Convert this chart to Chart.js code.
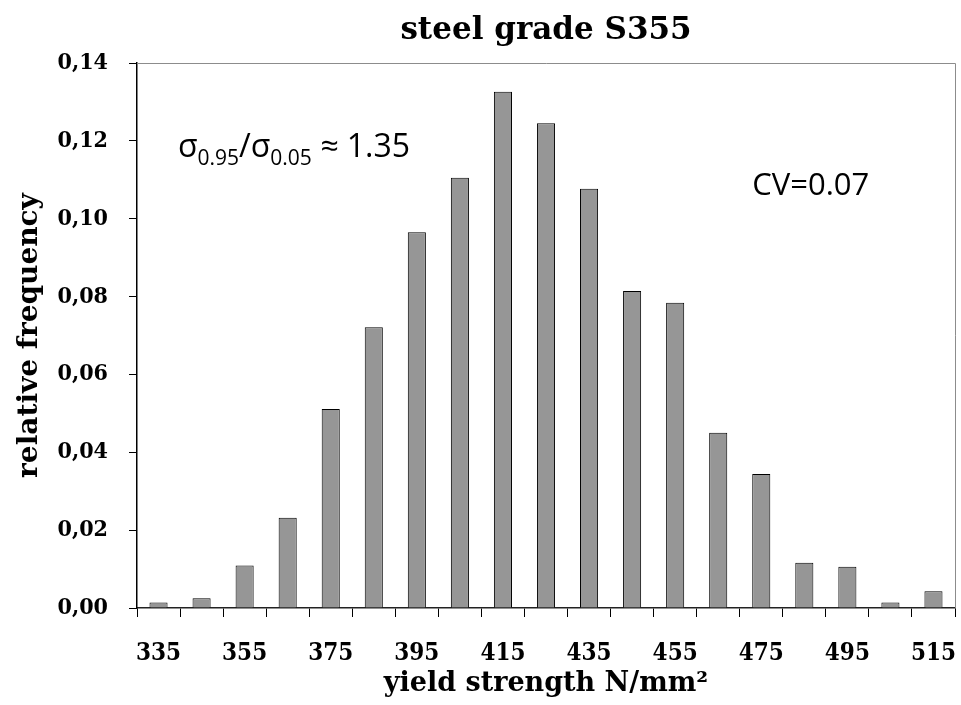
<!DOCTYPE html>
<html>
<head>
<meta charset="utf-8">
<script src="https://cdn.jsdelivr.net/npm/chart.js@4/dist/chart.umd.min.js"></script>
<style>
  html, body { margin: 0; padding: 0; background: #fff; }
  canvas { display: block; }
</style>
</head>
<body>
<canvas id="c" width="961" height="705"></canvas>
<script>
// ---- data ----
const categories = ['335','345','355','365','375','385','395','405','415','425','435','445','455','465','475','485','495','505','515'];
const relativeFrequency = [0.0014, 0.0025, 0.0109, 0.0232, 0.0511, 0.0721, 0.0965, 0.1105, 0.1326, 0.1245, 0.1077, 0.0814, 0.0784, 0.0450, 0.0344, 0.0116, 0.0106, 0.0014, 0.0043];
const yTicks = [0, 0.02, 0.04, 0.06, 0.08, 0.10, 0.12, 0.14];
const titleText = 'steel grade S355';
const xTitle = 'yield strength N/mm\u00B2';
const yTitle = 'relative frequency';
const ratioNote = { x: 0.45, y: 0.1158 };   // anchor in (category index, value)
const cvNote = { text: 'CV=0.07', x: 13.79, y: 0.106 };

const SERIF = "'DejaVu Serif', serif";
const TICKFONT = "'DejaVu Serif Condensed', 'DejaVu Serif', serif";
const SANS = "'Open Sans', 'Noto Sans', sans-serif";

const framePlugin = {
  id: 'frame',
  afterDraw(chart) {
    const { ctx, chartArea: a } = chart;
    ctx.save();
    ctx.strokeStyle = '#8c8c8c';
    ctx.lineWidth = 1;
    ctx.beginPath();
    ctx.moveTo(a.left, a.top + 0.5);
    ctx.lineTo(a.right + 0.5, a.top + 0.5);
    ctx.lineTo(a.right + 0.5, a.bottom);
    ctx.stroke();
    ctx.restore();
  }
};

const notesPlugin = {
  id: 'notes',
  afterDatasetsDraw(chart) {
    const { ctx, scales: { x, y } } = chart;
    ctx.save();
    ctx.fillStyle = '#000';
    ctx.textBaseline = 'alphabetic';
    ctx.textAlign = 'left';
    let px = x.getPixelForValue(ratioNote.x);
    const py = y.getPixelForValue(ratioNote.y);
    const big = '32px ' + SANS, small = '21px ' + SANS;
    const parts = [
      { t: '\u03C3', f: big, dy: 0 },
      { t: '0.95', f: small, dy: 8 },
      { t: '/', f: big, dy: 0 },
      { t: '\u03C3', f: big, dy: 0 },
      { t: '0.05', f: small, dy: 8 },
      { t: ' \u2248 1.35', f: big, dy: 0 }
    ];
    for (const p of parts) {
      ctx.font = p.f;
      ctx.fillText(p.t, px, py + p.dy);
      px += ctx.measureText(p.t).width;
    }
    ctx.font = '31px ' + SANS;
    ctx.fillText(cvNote.text, x.getPixelForValue(cvNote.x), y.getPixelForValue(cvNote.y));
    ctx.restore();
  }
};

new Chart(document.getElementById('c'), {
  type: 'bar',
  data: {
    labels: categories,
    datasets: [{
      data: relativeFrequency,
      backgroundColor: '#969696',
      borderColor: '#000',
      borderWidth: 1,
      borderSkipped: 'bottom',
      barPercentage: 0.42,
      categoryPercentage: 1.0
    }]
  },
  options: {
    responsive: false,
    animation: false,
    devicePixelRatio: 1,
    layout: { padding: { left: 0, right: 6, top: 0, bottom: 0 } },
    plugins: {
      legend: { display: false },
      tooltip: { enabled: false },
      title: {
        display: true,
        fullSize: false,
        text: titleText,
        color: '#000',
        font: { family: SERIF, size: 31, weight: 'bold', lineHeight: 1.2 },
        padding: { top: 12, bottom: 13.8 }
      }
    },
    scales: {
      x: {
        type: 'category',
        offset: true,
        grid: { offset: true, drawOnChartArea: false, drawTicks: true, tickLength: 9, color: '#000', lineWidth: 1 },
        border: { display: true, color: '#222', width: 1.5 },
        ticks: {
          autoSkip: false,
          maxRotation: 0,
          minRotation: 0,
          padding: 22,
          color: '#000',
          font: { family: TICKFONT, size: 24, weight: 'bold' },
          callback: (v, i) => (i % 2 === 0 ? categories[i] : '')
        },
        title: {
          display: true,
          text: xTitle,
          color: '#000',
          font: { family: SERIF, size: 27, weight: 'bold', lineHeight: 1.2 },
          padding: { top: 0, bottom: 5 }
        },
        afterFit: (s) => { s.height = 97; s.paddingRight = 0; s.paddingLeft = 0; }
      },
      y: {
        min: 0,
        max: 0.14,
        afterBuildTicks: (s) => { s.ticks = yTicks.map(v => ({ value: v })); },
        grid: { drawOnChartArea: false, drawTicks: true, tickLength: 8, color: '#000', lineWidth: 1 },
        border: { display: true, color: '#000', width: 1.5 },
        ticks: {
          padding: 21,
          color: '#000',
          font: { family: TICKFONT, size: 23, weight: 'bold' },
          callback: (v) => Number(v).toFixed(2).replace('.', ',')
        },
        title: {
          display: true,
          text: yTitle,
          color: '#000',
          font: { family: SERIF, size: 28, weight: 'bold', lineHeight: 1.2 },
          padding: { top: 13, bottom: 0 }
        },
        afterFit: (s) => { s.width = 137; }
      }
    }
  },
  plugins: [framePlugin, notesPlugin]
});
</script>
</body>
</html>
